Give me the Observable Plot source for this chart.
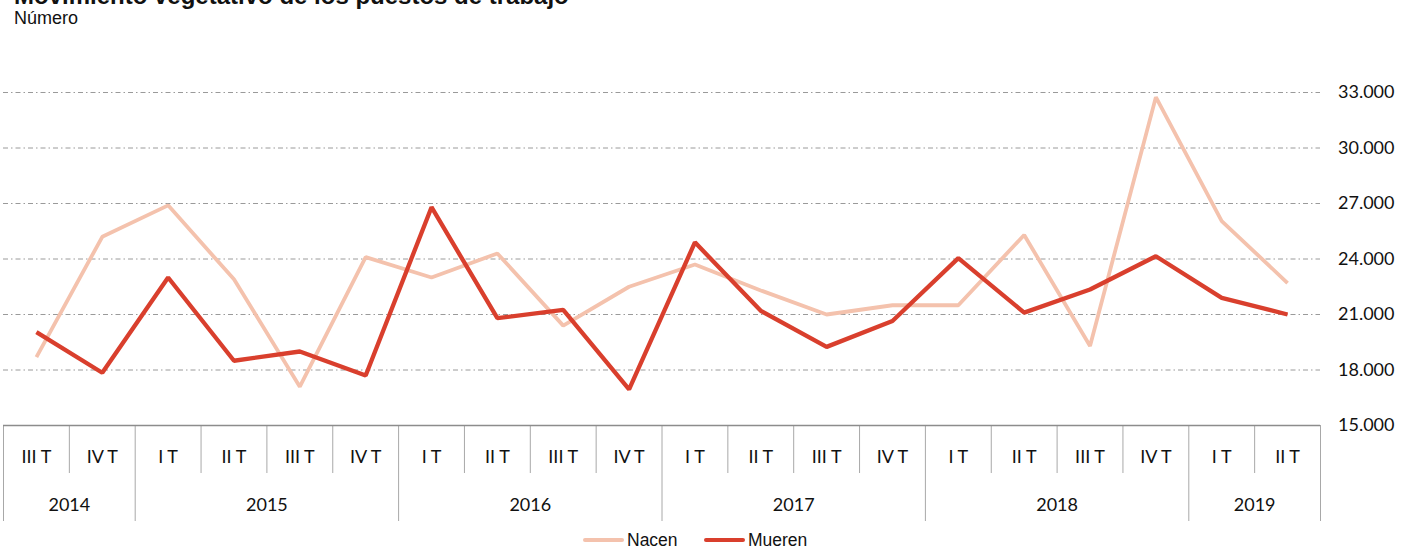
<!DOCTYPE html>
<html>
<head>
<meta charset="utf-8">
<script src="https://cdn.jsdelivr.net/npm/d3@7"></script>
<script src="https://cdn.jsdelivr.net/npm/@observablehq/plot@0.6"></script>
<style>
  html, body { margin: 0; padding: 0; background: #fff; }
  body { width: 1405px; height: 549px; overflow: hidden; position: relative; font-family: "Liberation Sans", Arial, sans-serif; color: #111; }
  #title { position: absolute; left: 14px; top: -16px; font-size: 24px; line-height: 24px; font-weight: bold; white-space: nowrap; }
  #sub { position: absolute; left: 14px; top: 9px; font-size: 18px; line-height: 18px; white-space: nowrap; }
  #chart { position: absolute; left: 0; top: 0; }
  #legend { position: absolute; left: 0; top: 530px; width: 1405px; height: 19px; }
  .sw { position: absolute; top: 8px; height: 4px; width: 41px; border-radius: 2px; }
  .lt { position: absolute; top: 1px; font-size: 17.5px; line-height: 18px; white-space: nowrap; color: #111; }
</style>
</head>
<body>
<div id="title">Movimiento vegetativo de los puestos de trabajo</div>
<div id="sub">Número</div>
<div id="chart"></div>
<div id="legend"></div>
<script>
// ---- data ----
const quarters = ["III T","IV T","I T","II T","III T","IV T","I T","II T","III T","IV T",
                  "I T","II T","III T","IV T","I T","II T","III T","IV T","I T","II T"];
const yearLabels = ["2014","2015","2016","2017","2018","2019"];
const yearQuarterCounts = [2, 4, 4, 4, 4, 2];
const nacen  = [18700, 25200, 26900, 22900, 17100, 24100, 23000, 24300, 20400, 22500,
                23700, 22300, 21000, 21500, 21500, 25300, 19300, 32750, 26050, 22700];
const mueren = [20050, 17850, 23000, 18500, 19000, 17700, 26800, 20800, 21250, 16950,
                24900, 21200, 19250, 20650, 24050, 21100, 22350, 24150, 21900, 21000];
const yTicks = [15000, 18000, 21000, 24000, 27000, 30000, 33000];
const seriesNames = ["Nacen", "Mueren"];
const seriesColors = ["#f4c2ad", "#d93f2d"];

// ---- derived tables ----
const yearStarts = [];
{ let s = 0; for (const c of yearQuarterCounts) { yearStarts.push(s); s += c; } yearStarts.push(s); }
const years = yearLabels.map((y, i) => ({ year: y, mid: (yearStarts[i] + yearStarts[i + 1]) / 2 }));
const yearBoundary = new Set(yearStarts);
const boundaries = d3.range(0, quarters.length + 1);

const locale = d3.formatLocale({ decimal: ",", thousands: ".", grouping: [3], currency: ["", "€"] });
const fmt = locale.format(",d");

const svgH = 530, plotTop = 92, plotBottom = 425;
const perPx = (yTicks[yTicks.length - 1] - yTicks[0]) / (plotBottom - plotTop);
const below = px => yTicks[0] - px * perPx;

const numFont = "Lato, 'Open Sans', sans-serif";

const chart = Plot.plot({
  width: 1405,
  height: svgH,
  marginLeft: 3,
  marginRight: 85,
  marginTop: plotTop,
  marginBottom: svgH - plotBottom,
  x: { type: "linear", domain: [0, quarters.length], axis: null },
  y: { domain: [yTicks[0], yTicks[yTicks.length - 1]], axis: null },
  marks: [
    Plot.ruleY(yTicks.slice(1), { stroke: "#9a9a9a", strokeWidth: 1, strokeDasharray: "5,3,1.5,3" }),
    Plot.ruleX(boundaries, {
      x: d => d,
      y1: yTicks[0],
      y2: d => yearBoundary.has(d) ? below(96) : below(48),
      stroke: "#a8a8a8",
      strokeWidth: 1
    }),
    Plot.ruleY([yTicks[0]], { stroke: "#8c8c8c", strokeWidth: 1.5 }),
    Plot.text(quarters, {
      x: (d, i) => i + 0.5, y: yTicks[0], dy: 31.5, text: d => d,
      fontFamily: numFont, fontSize: 18, fill: "#111"
    }),
    Plot.text(years, {
      x: "mid", y: yTicks[0], dy: 80, text: "year",
      fontFamily: numFont, fontSize: 18, fill: "#111"
    }),
    Plot.axisY(yTicks, {
      anchor: "right", tickSize: 0, tickPadding: 74, textAnchor: "end",
      tickFormat: fmt, fontFamily: numFont, fontSize: 18, fill: "#111", label: null
    }),
    Plot.line(nacen, {
      x: (d, i) => i + 0.5, y: d => d, stroke: seriesColors[0], strokeWidth: 3.8,
      strokeLinejoin: "miter", strokeLinecap: "butt"
    }),
    Plot.line(mueren, {
      x: (d, i) => i + 0.5, y: d => d, stroke: seriesColors[1], strokeWidth: 4.3,
      strokeLinejoin: "miter", strokeLinecap: "butt"
    })
  ]
});
document.getElementById("chart").appendChild(chart);

// ---- legend ----
const legend = document.getElementById("legend");
const legendPos = [[583, 627], [704, 748]];
seriesNames.forEach((name, i) => {
  const sw = document.createElement("div");
  sw.className = "sw";
  sw.style.left = legendPos[i][0] + "px";
  sw.style.background = seriesColors[i];
  legend.appendChild(sw);
  const t = document.createElement("div");
  t.className = "lt";
  t.style.left = legendPos[i][1] + "px";
  t.textContent = name;
  legend.appendChild(t);
});
</script>
</body>
</html>
